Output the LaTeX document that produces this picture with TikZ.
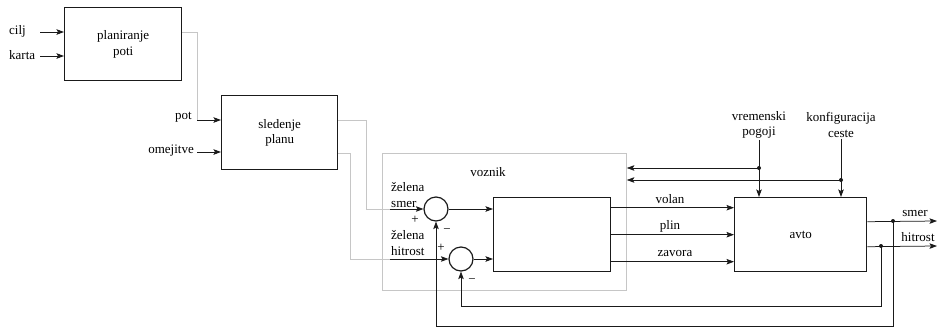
\documentclass[tikz,border=0pt]{standalone}
\usepackage{fontspec}
\setmainfont{Liberation Serif}
\usetikzlibrary{arrows.meta,calc,positioning}
\definecolor{Ink}{HTML}{1A1A1A}
\definecolor{Okvir}{HTML}{C6C6C6}

\begin{document}
\begin{tikzpicture}[x=1pt,y=-1pt,
  font=\fontsize{13}{15.5}\selectfont,
  blok/.style={draw=Ink,line width=1.4pt,align=center,anchor=north west,inner sep=0pt},
  vod/.style={draw=Ink,line width=.75pt},
  tok/.style={vod,-{Stealth[length=7.5pt,width=5.5pt,inset=1.5pt]}},
  siv/.style={draw=Okvir,line width=.8pt},
  sum/.style={circle,draw=Ink,line width=1.2pt,minimum size=24pt,inner sep=0pt},
  lab/.style={inner sep=1pt}]
\useasboundingbox (0,0) rectangle (938,327);

% bloki
\node[blok,minimum width=117pt,minimum height=73pt] (plan) at (64,7) {planiranje\\poti};
\node[blok,minimum width=116pt,minimum height=74pt] (sled) at (221,95) {sledenje\\planu};
\node[draw=Okvir,line width=.8pt,minimum width=244pt,minimum height=137pt,anchor=north west] (voz) at (382,153) {};
\node[lab] (voznik) at (488,172) {voznik};
\node[blok,minimum width=117pt,minimum height=74pt] (reg) at (493,197) {};
\node[blok,minimum width=132pt,minimum height=74pt] (avto) at (734,197) {avto};
\node[sum] (sum1) at (436,209) {};
\node[sum] (sum2) at (461,259) {};

% vhodi v planiranje
\node[lab,anchor=west] (cilj) at (8,31) {cilj};
\node[lab,anchor=west] (karta) at (8,55) {karta};
\coordinate (cilj-in) at (40,32);
\coordinate (karta-in) at (40,56);
\draw[tok] (cilj-in) -- (cilj-in -| plan.west);
\draw[tok] (karta-in) -- (karta-in -| plan.west);

% pot in omejitve
\node[lab,anchor=east] (pot) at (193,117) {pot};
\node[lab,anchor=east] (omej) at (195,151) {omejitve};
\coordinate (pot-in) at (197,120);
\coordinate (omej-in) at (197,152);
\draw[siv] ([yshift=11.5pt]plan.east) -| (pot-in);
\draw[tok] (pot-in) -- (pot-in -| sled.west);
\draw[tok] (omej-in) -- (omej-in -| sled.west);

% zelene vrednosti
\coordinate (smer-ref) at (390,209);
\coordinate (hitr-ref) at (390,259);
\draw[siv] ([yshift=12pt]sled.east) -| (366,209) -- (smer-ref);
\draw[siv] ([yshift=-21pt]sled.east) -| (350,259) -- (hitr-ref);
\draw[tok] (smer-ref) -- (sum1.west);
\draw[tok] (hitr-ref) -- (sum2.west);
\node[lab,align=left,anchor=west] (zsmer) at (390,195) {želena\\smer};
\node[lab,align=left,anchor=west] (zhitr) at (390,243) {želena\\hitrost};
\node[lab] (p1) at (415,220) {+};
\node[lab] (m1) at (447,231) {−};
\node[lab] (p2) at (441,248) {+};
\node[lab] (m2) at (472,281) {−};
\draw[tok] (sum1.east) -- (sum1.east -| reg.west);
\draw[tok] (sum2.east) -- (sum2.east -| reg.west);

% volan, plin, zavora
\draw[tok] ([yshift=27pt]reg.east) -- ([yshift=27pt]avto.west);
\draw[tok] (reg.east) -- (avto.west);
\draw[tok] ([yshift=-27pt]reg.east) -- ([yshift=-27pt]avto.west);
\node[lab] (volan) at (670,199) {volan};
\node[lab] (plin) at (670,226) {plin};
\node[lab] (zavora) at (675,253) {zavora};

% motnje
\node[lab,align=center] (vreme) at (759,125) {vremenski\\pogoji};
\node[lab,align=center] (konf) at (841,125) {konfiguracija\\ceste};
\draw[tok] (vreme.south) -- (vreme.south |- avto.north);
\draw[tok] (konf.south) -- (konf.south |- avto.north);
\coordinate (vdot) at (759,168);
\coordinate (kdot) at (841,180);
\fill[Ink] (vdot) circle (2pt) (kdot) circle (2pt);
\draw[tok] (vdot) -- (vdot -| voz.east);
\draw[tok] (kdot) -- (kdot -| voz.east);

% izhodi in povratne zanke
\coordinate (smer-out) at (937,221);
\coordinate (hitr-out) at (937,246);
\draw[tok] ([yshift=13pt]avto.east) -- (smer-out);
\draw[tok] ([yshift=-12pt]avto.east) -- (hitr-out);
\node[lab] (smer) at (915,213) {smer};
\node[lab] (hitrost) at (918,237) {hitrost};
\coordinate (sdot) at (893,221);
\coordinate (hdot) at (881,246);
\fill[Ink] (sdot) circle (2pt) (hdot) circle (2pt);
\draw[tok] (sdot) -- (sdot |- 0,326) -| (sum1.south);
\draw[tok] (hdot) -- (hdot |- 0,306) -| (sum2.south);
\end{tikzpicture}
\end{document}
